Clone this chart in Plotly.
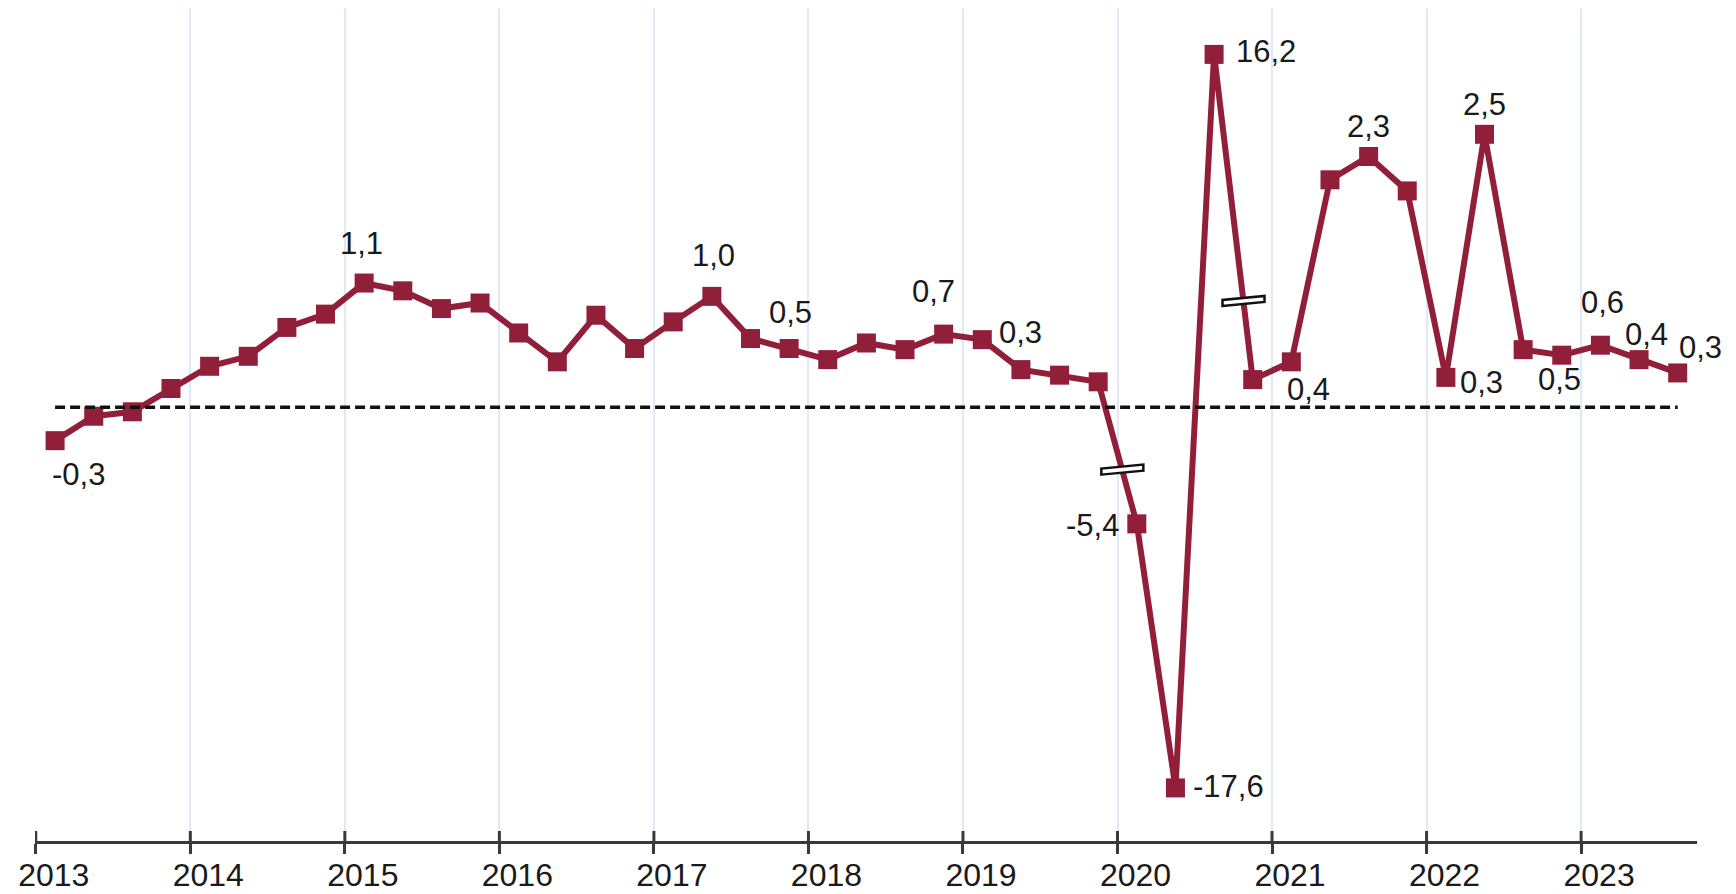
import plotly.graph_objects as go

# quarterly GDP growth, q/q %, 2013 T1 .. 2023 T3
START_YEAR = 2013
YEARS = list(range(2013, 2024))
GROWTH = [
    -0.3, -0.08, -0.04, 0.17,
    0.37, 0.46, 0.72, 0.84,
    1.12, 1.05, 0.89, 0.94,
    0.67, 0.41, 0.83, 0.53,
    0.77, 1.0, 0.62, 0.53,
    0.43, 0.58, 0.52, 0.66,
    0.61, 0.34, 0.29, 0.23,
    -5.4, -17.6, 16.2, 0.25,
    0.41, 2.05, 2.26, 1.95,
    0.27, 2.46, 0.52, 0.47,
    0.56, 0.43, 0.31,
]
# points that carry a value label
LABELLED = [0, 8, 17, 19, 23, 25, 28, 29, 30, 32, 34, 36, 37, 39, 40, 41, 42]

LINE_COLOR = "#921f3a"
AXIS_COLOR = "#3a3a3a"
FONT = "Liberation Sans, Arial, sans-serif"

# broken y axis: linear around zero, compressed beyond the cuts
LOW_CUT, LOW_RESUME, LOW_SLOPE = -0.57, -2.94, 0.195
HIGH_CUT, HIGH_RESUME, HIGH_SLOPE = 3.0, 15.0, 0.15
UPPER_MARK = 0.95  # where the break sign sits on the way down from the peak


def axis_pos(v):
    if v < LOW_CUT:
        return LOW_CUT + (v - LOW_RESUME) * LOW_SLOPE
    if v > HIGH_CUT:
        return HIGH_CUT + (v - HIGH_RESUME) * HIGH_SLOPE
    return v


xs = [START_YEAR + (i + 0.5) / 4 for i in range(len(GROWTH))]
ys = [axis_pos(v) for v in GROWTH]


def crossing(i, level):
    t = (level - ys[i]) / (ys[i + 1] - ys[i])
    return xs[i] + t * (xs[i + 1] - xs[i])


fig = go.Figure()

fig.add_trace(go.Scatter(
    x=xs, y=ys, mode="lines+markers",
    line=dict(color=LINE_COLOR, width=6),
    marker=dict(symbol="square", size=19, color=LINE_COLOR),
    hoverinfo="skip", showlegend=False,
))

fig.add_trace(go.Scatter(
    x=[xs[0], xs[-1]], y=[0, 0], mode="lines",
    line=dict(color="#111", width=3.5, dash="10px,5px"),
    hoverinfo="skip", showlegend=False,
))

# label placement: (xanchor, xshift, yshift)
label_style = {
    0: ("center", 23, -34),
    8: ("center", -3, 40),
    17: ("center", 2, 41),
    19: ("center", 1, 36),
    23: ("center", -10, 43),
    25: ("center", 0, 37),
    28: ("right", -16, -2),
    29: ("left", 16, 1),
    30: ("left", 20, 3),
    32: ("center", 17, -28),
    34: ("center", 0, 30),
    36: ("left", 12, -5),
    37: ("center", 0, 30),
    39: ("center", -2, -24),
    40: ("center", 2, 43),
    41: ("center", 7, 25),
    42: ("center", 23, 25),
}
for i in LABELLED:
    anchor, dx, dy = label_style[i]
    fig.add_annotation(
        x=xs[i], y=ys[i], text=f"{GROWTH[i]:.1f}".replace(".", ","),
        showarrow=False, xanchor=anchor, yanchor="middle",
        xshift=dx, yshift=dy,
        font=dict(family=FONT, size=31, color="#1a1a1a"),
    )

# axis break signs on the two steep segments
breaks = [(crossing(27, LOW_CUT), LOW_CUT), (crossing(30, UPPER_MARK), UPPER_MARK)]
for bx, by in breaks:
    fig.add_shape(
        type="path", xref="x", yref="y",
        xsizemode="pixel", ysizemode="pixel", xanchor=bx, yanchor=by,
        path="M -21,-4 L 21,0 L 21,6 L -21,2 Z",
        fillcolor="white", line=dict(color="#111", width=2.5), layer="above",
    )

# upper half of each year tick (the axis ticks cross the line)
for yr in YEARS:
    fig.add_shape(
        type="line", xref="x", yref="paper", ysizemode="pixel", yanchor=0,
        x0=yr, x1=yr, y0=0, y1=10,
        line=dict(color=AXIS_COLOR, width=3), layer="above",
    )

fig.update_layout(
    width=1736, height=894,
    margin=dict(l=35, r=39, t=8, b=53),
    paper_bgcolor="white", plot_bgcolor="white",
    xaxis=dict(
        range=[2012.995, 2023.75], tickmode="array", tickvals=YEARS,
        ticktext=[str(y) for y in YEARS],
        ticks="outside", ticklen=10, tickwidth=3, tickcolor=AXIS_COLOR,
        ticklabelstandoff=-6, ticklabelshift=18,
        showgrid=True, gridcolor="#dfe9f8", gridwidth=2,
        showline=True, linecolor=AXIS_COLOR, linewidth=3,
        zeroline=False, automargin=False,
        tickfont=dict(family=FONT, size=32, color="#1a1a1a"),
    ),
    yaxis=dict(
        range=[-3.907, 3.598], visible=False, showgrid=False,
        zeroline=False, fixedrange=True,
    ),
)

# page body margin off so the figure sits at the window's corner
fig.write_html(
    "out.html",
    config={"displayModeBar": False},
    post_script="document.body.style.margin='0px';",
)
